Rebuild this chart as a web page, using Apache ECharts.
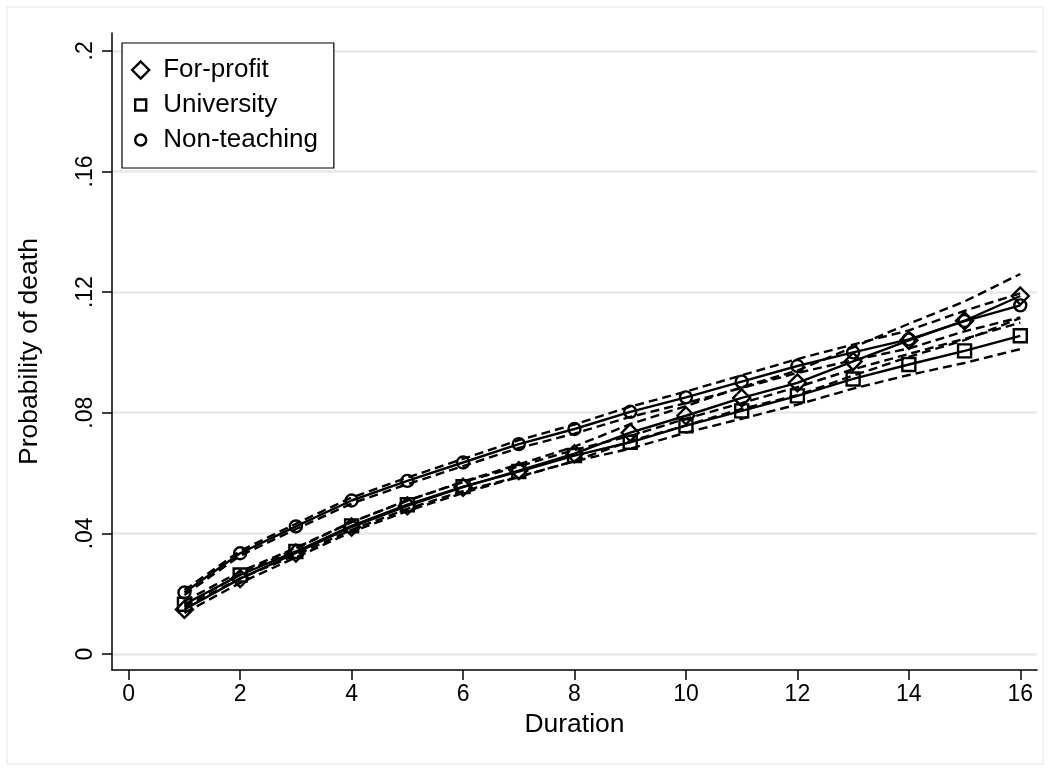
<!DOCTYPE html>
<html>
<head>
<meta charset="utf-8">
<script src="https://cdn.jsdelivr.net/npm/echarts@6/dist/echarts.min.js"></script>
<style>
  html, body { margin: 0; padding: 0; background: #fff; }
  #chart { width: 1050px; height: 771px; }
</style>
</head>
<body>
<div id="chart"></div>
<script>
// durations (x) and tick values
var durations = [1, 2, 3, 4, 5, 6, 7, 8, 9, 10, 11, 12, 13, 14, 15, 16];
var xTicks = [0, 2, 4, 6, 8, 10, 12, 14, 16];
var yTicks = [0, 0.04, 0.08, 0.12, 0.16, 0.2];

// point estimates
var forProfit   = [0.0148, 0.0250, 0.0335, 0.0421, 0.0491, 0.0553, 0.0608, 0.0664, 0.0734, 0.0790, 0.0849, 0.0899, 0.0970, 0.1040, 0.1105, 0.1187];
var university  = [0.0165, 0.0262, 0.0340, 0.0425, 0.0495, 0.0555, 0.0605, 0.0658, 0.0702, 0.0757, 0.0806, 0.0856, 0.0912, 0.0960, 0.1005, 0.1055];
var nonTeaching = [0.0204, 0.0334, 0.0423, 0.0509, 0.0574, 0.0635, 0.0696, 0.0746, 0.0803, 0.0851, 0.0903, 0.0955, 0.1000, 0.1043, 0.1104, 0.1156];

// confidence bands (dashed)
var forProfitLo   = [0.0136, 0.0236, 0.0320, 0.0405, 0.0474, 0.0534, 0.0587, 0.0640, 0.0706, 0.0758, 0.0813, 0.0858, 0.0923, 0.0985, 0.1041, 0.1114];
var forProfitHi   = [0.0160, 0.0264, 0.0350, 0.0437, 0.0508, 0.0572, 0.0629, 0.0688, 0.0762, 0.0822, 0.0885, 0.0940, 0.1017, 0.1095, 0.1169, 0.1260];
var universityLo  = [0.0155, 0.0251, 0.0328, 0.0412, 0.0481, 0.0540, 0.0588, 0.0639, 0.0681, 0.0734, 0.0780, 0.0827, 0.0880, 0.0925, 0.0965, 0.1011];
var universityHi  = [0.0175, 0.0273, 0.0352, 0.0438, 0.0509, 0.0570, 0.0622, 0.0677, 0.0723, 0.0780, 0.0832, 0.0885, 0.0944, 0.0995, 0.1045, 0.1099];
var nonTeachingLo = [0.0196, 0.0326, 0.0414, 0.0499, 0.0563, 0.0623, 0.0683, 0.0731, 0.0786, 0.0832, 0.0882, 0.0932, 0.0974, 0.1013, 0.1070, 0.1116];
var nonTeachingHi = [0.0212, 0.0342, 0.0432, 0.0519, 0.0585, 0.0647, 0.0709, 0.0761, 0.0820, 0.0870, 0.0924, 0.0978, 0.1026, 0.1073, 0.1138, 0.1196];

var FONT = '"Liberation Sans", Arial, sans-serif';

// legend icons: padded paths so the square and circle come out smaller than the diamond
var iconSquare = 'path://M0,0M17,17M3,3H14V14H3Z';
var iconCircle = 'path://M0,0M17,17M14,8.5A5.5,5.5,0,1,1,3,8.5A5.5,5.5,0,1,1,14,8.5Z';

function pairs(vals) {
    var out = [];
    for (var i = 0; i < durations.length; i++) {
        out.push([durations[i], vals[i]]);
    }
    return out;
}
function ciLine(name, vals) {
    return {
        name: name, type: 'line', data: pairs(vals),
        symbol: 'none', silent: true, z: 2,
        lineStyle: {color: '#000', width: 2.4, type: [9, 5]}
    };
}
function estLine(name, vals, symbol, size) {
    return {
        name: name, type: 'line', data: pairs(vals),
        symbol: symbol, symbolSize: size, showSymbol: true, z: 3,
        itemStyle: {color: 'transparent', borderColor: '#000', borderWidth: 2.4},
        lineStyle: {color: '#000', width: 2.4}
    };
}

var chart = echarts.init(document.getElementById('chart'));
chart.setOption({
    animation: false,
    backgroundColor: '#fff',
    graphic: [{
        type: 'rect', z: -10,
        shape: {x: 7, y: 7, width: 1036, height: 757},
        style: {fill: 'none', stroke: '#e6e6e6', lineWidth: 1}
    }],
    grid: {left: 112, right: 13, top: 33, bottom: 101, outerBoundsMode: 'none'},
    legend: {
        left: 122, top: 43, orient: 'vertical',
        padding: [14, 16, 15, 9], itemGap: 9,
        itemWidth: 17, itemHeight: 17, symbolKeepAspect: true,
        backgroundColor: '#fff', borderColor: '#000', borderWidth: 1.2,
        textStyle: {fontFamily: FONT, fontSize: 26, color: '#000', padding: [0, 0, 0, 9]},
        itemStyle: {color: '#fff', borderColor: '#000', borderWidth: 2.4},
        data: [
            {name: 'For-profit', icon: 'diamond'},
            {name: 'University', icon: iconSquare},
            {name: 'Non-teaching', icon: iconCircle}
        ]
    },
    xAxis: {
        type: 'value', min: -0.3, max: 16.3,
        name: 'Duration', nameLocation: 'middle', nameGap: 35,
        nameTextStyle: {fontFamily: FONT, fontSize: 26.5, color: '#000'},
        axisLine: {onZero: false, lineStyle: {color: '#000', width: 1.5}},
        axisTick: {show: true, length: 10, lineStyle: {color: '#000', width: 1.5}, customValues: xTicks},
        axisLabel: {fontFamily: FONT, fontSize: 23, color: '#000', margin: 13, customValues: xTicks},
        splitLine: {show: false}
    },
    yAxis: {
        type: 'value', min: -0.0053, max: 0.2059,
        name: 'Probability of death', nameLocation: 'middle', nameGap: 69,
        nameTextStyle: {fontFamily: FONT, fontSize: 26.5, color: '#000'},
        axisLine: {show: true, onZero: false, lineStyle: {color: '#000', width: 1.5}},
        axisTick: {show: true, length: 10, lineStyle: {color: '#000', width: 1.5}, customValues: yTicks},
        axisLabel: {
            fontFamily: FONT, fontSize: 23, color: '#000', margin: 15, rotate: 90,
            customValues: yTicks,
            formatter: function (v) {
                if (Math.abs(v) < 1e-9) return '0';
                return String(+v.toFixed(2)).replace(/^0\./, '.');
            }
        },
        splitLine: {show: true, lineStyle: {color: '#e8e8e8', width: 2.5}}
    },
    series: [
        ciLine('fp_lo', forProfitLo),
        ciLine('fp_hi', forProfitHi),
        ciLine('un_lo', universityLo),
        ciLine('un_hi', universityHi),
        ciLine('nt_lo', nonTeachingLo),
        ciLine('nt_hi', nonTeachingHi),
        estLine('For-profit', forProfit, 'diamond', 17),
        estLine('University', university, 'rect', 13),
        estLine('Non-teaching', nonTeaching, 'circle', 12)
    ]
});
</script>
</body>
</html>
